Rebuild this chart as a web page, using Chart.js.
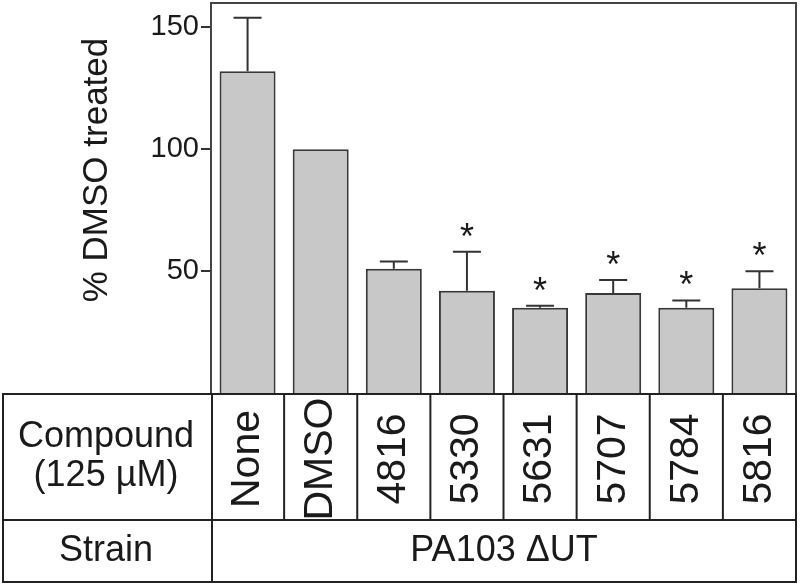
<!DOCTYPE html>
<html>
<head>
<meta charset="utf-8">
<script src="https://cdn.jsdelivr.net/npm/chart.js@4/dist/chart.umd.min.js"></script>
<style>
	html, body { margin: 0; padding: 0; background: #fff; }
	#wrap { width: 800px; height: 588px; }
</style>
</head>
<body>
<div id="wrap"><canvas id="chart-dmso"></canvas></div>
<script>
var compounds = ['None', 'DMSO', '4816', '5330', '5631', '5707', '5784', '5816'];
var pctDmso = [132, 100, 51, 42, 35, 41, 35, 43];
var pctErr = [22, 0, 3, 16, 0.8, 5.4, 3, 7];
var signif = ['', '', '', '*', '*', '*', '*', '*'];
var yTicks = [50, 100, 150];
var yTitle = '% DMSO treated';
var rowTitles = [['Compound', '(125 \u00b5M)'], ['Strain']];
var strainName = 'PA103 \u0394UT';

var FONT = '"Liberation Sans", Arial, sans-serif';
var INK = '#1a1a1a';

// error bars, stars, frame and the table under the plot
var extras = {
	id: 'extras',
	afterDatasetsDraw: function (chart) {
		var ctx = chart.ctx;
		var x = chart.scales.x, y = chart.scales.y;
		var area = chart.chartArea;
		var meta = chart.getDatasetMeta(0);

		ctx.save();
		ctx.strokeStyle = '#333';
		ctx.lineWidth = 2;
		meta.data.forEach(function (bar, i) {
			if (!pctErr[i]) return;
			var top = y.getPixelForValue(pctDmso[i] + pctErr[i]);
			var base = y.getPixelForValue(pctDmso[i]);
			ctx.beginPath();
			ctx.moveTo(bar.x, base);
			ctx.lineTo(bar.x, top);
			ctx.moveTo(bar.x - 14, top);
			ctx.lineTo(bar.x + 14, top);
			ctx.stroke();
		});

		ctx.fillStyle = INK;
		ctx.font = '36px ' + FONT;
		ctx.textAlign = 'center';
		ctx.textBaseline = 'alphabetic';
		meta.data.forEach(function (bar, i) {
			if (!signif[i]) return;
			var top = y.getPixelForValue(pctDmso[i] + pctErr[i]);
			ctx.fillText(signif[i], bar.x, top - 24 + 21);
		});

		// top and right frame
		ctx.strokeStyle = '#444';
		ctx.beginPath();
		ctx.moveTo(area.left, area.top);
		ctx.lineTo(area.right, area.top);
		ctx.lineTo(area.right, area.bottom);
		ctx.stroke();

		// axis title
		ctx.save();
		ctx.translate(97, 170);
		ctx.rotate(-Math.PI / 2);
		ctx.font = '35px ' + FONT;
		ctx.textBaseline = 'middle';
		ctx.fillText(yTitle, 0, 0);
		ctx.restore();

		// table
		var tLeft = 3, tRight = area.right, tTop = area.bottom + 1, tMid = 520, tBot = 582, split = area.left + 1;
		var colW = (area.right - area.left) / compounds.length;
		ctx.strokeStyle = '#222';
		ctx.lineWidth = 2;
		ctx.strokeRect(tLeft, tTop, tRight - tLeft, tBot - tTop);
		ctx.beginPath();
		ctx.moveTo(tLeft, tMid); ctx.lineTo(tRight, tMid);
		ctx.moveTo(split, tTop); ctx.lineTo(split, tBot);
		for (var k = 1; k < compounds.length; k++) {
			var cx = area.left + colW * k;
			ctx.moveTo(cx, tTop); ctx.lineTo(cx, tMid);
		}
		ctx.stroke();

		ctx.font = '36px ' + FONT;
		ctx.textBaseline = 'middle';
		ctx.fillText(rowTitles[0][0], 106, 437);
		ctx.fillText(rowTitles[0][1], 106, 476);
		ctx.fillText(rowTitles[1][0], 106, 551);
		ctx.fillText(strainName, (split + tRight) / 2, 551);

		ctx.font = '41px ' + FONT;
		compounds.forEach(function (c, i) {
			ctx.save();
			ctx.translate(x.getPixelForValue(i), (tTop + tMid) / 2 + 2);
			ctx.rotate(-Math.PI / 2);
			ctx.fillText(c, 0, 0);
			ctx.restore();
		});
		ctx.restore();
	}
};

var ctx_bar = document.getElementById('chart-dmso').getContext('2d');
new Chart(ctx_bar, {
	type: 'bar',
	data: {
		labels: compounds,
		datasets: [{
			data: pctDmso,
			backgroundColor: '#c8c8c8',
			borderColor: '#383838',
			borderWidth: 2,
			borderSkipped: 'bottom',
			categoryPercentage: 1,
			barPercentage: 0.766
		}]
	},
	options: {
		responsive: true,
		maintainAspectRatio: false,
		animation: false,
		events: [],
		layout: { padding: { left: 0, top: 3, right: 4, bottom: 195 } },
		plugins: { legend: { display: false }, tooltip: { enabled: false } },
		scales: {
			x: { display: false },
			y: {
				min: 0,
				max: 160,
				afterFit: function (scale) {
					scale.width = 211;
					scale.paddingTop = 0;
					scale.paddingBottom = 0;
				},
				afterBuildTicks: function (scale) {
					scale.ticks = yTicks.map(function (v) { return { value: v }; });
				},
				grid: { drawOnChartArea: false, drawTicks: true, tickLength: 10, color: '#333', lineWidth: 2 },
				border: { display: true, color: '#444', width: 2 },
				ticks: { padding: 2, color: INK, font: { family: FONT, size: 29 } }
			}
		}
	},
	plugins: [extras]
});
</script>
</body>
</html>
